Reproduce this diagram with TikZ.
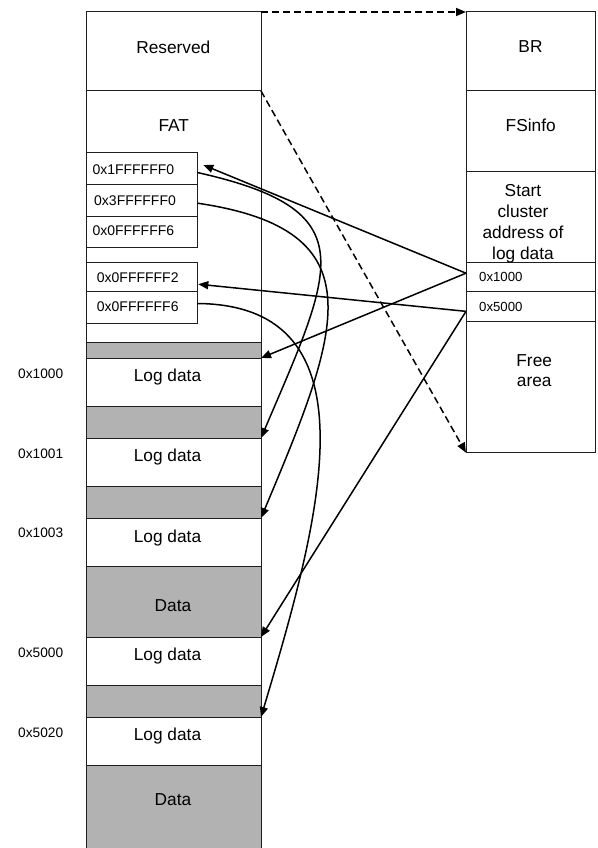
\documentclass[tikz,border=0pt]{standalone}
\usepackage{fontspec}
\setmainfont{Liberation Sans}
\usetikzlibrary{arrows.meta,calc}
\definecolor{blockgray}{RGB}{178,178,178}
\definecolor{edge}{RGB}{30,30,30}
\begin{document}
\begin{tikzpicture}[x=1pt,y=-1pt,
  cell/.style={draw=edge, line width=1pt, minimum width=175pt, inner sep=0pt, outer sep=0pt},
  rcell/.style={draw=edge, line width=1pt, minimum width=129.5pt, inner sep=0pt, outer sep=0pt},
  entry/.style={draw=edge, line width=1pt, minimum width=111.3pt, inner sep=0pt, outer sep=0pt},
  shaded/.style={fill=blockgray},
  big/.style={font=\fontsize{17.3}{21}\selectfont, inner sep=0pt, anchor=base},
  hex/.style={font=\fontsize{14}{16}\selectfont, inner sep=0pt, anchor=west},
  shex/.style={font=\fontsize{13.2}{15}\selectfont, inner sep=0pt, anchor=west},
  addr/.style={font=\fontsize{13.7}{15}\selectfont, inner sep=0pt, anchor=west},
  link/.style={draw=black, line width=1.5pt, -{Triangle[length=10pt,width=8pt]}},
  ptr/.style={link, dash pattern=on 7pt off 4pt}
]
\useasboundingbox (0,0) rectangle (597,848);

% ---- storage column (left) ----
\node[cell, minimum height=79pt]   (res)    at (173.5,51.5)  {};
\node[cell, minimum height=251pt]  (fatreg) at (173.5,216.5) {};
\node[cell, shaded, minimum height=16pt] (g1) at (173.5,350) {};
\node[cell, minimum height=48pt]   (ld1)    at (173.5,382)   {};
\node[cell, shaded, minimum height=32pt] (g2) at (173.5,422) {};
\node[cell, minimum height=48pt]   (ld2)    at (173.5,462)   {};
\node[cell, shaded, minimum height=32pt] (g3) at (173.5,502) {};
\node[cell, minimum height=48pt]   (ld3)    at (173.5,542)   {};
\node[cell, shaded, minimum height=71pt] (d1) at (173.5,601.5) {};
\node[cell, minimum height=48pt]   (ld4)    at (173.5,661)   {};
\node[cell, shaded, minimum height=32pt] (g4) at (173.5,701) {};
\node[cell, minimum height=48pt]   (ld5)    at (173.5,741)   {};
\node[cell, shaded, minimum height=86pt] (d2) at (173.5,808) {};

\node[big] (tres) at (173.3,53.3)  {Reserved};
\node[big] (tfat) at (173.8,131.3) {FAT};
\node[big] (tld1) at (167.5,381.7) {Log data};
\node[big] (tld2) at (167.5,461.7) {Log data};
\node[big] (tld3) at (167.5,542.0) {Log data};
\node[big] (td1)  at (173.0,611.7) {Data};
\node[big] (tld4) at (167.5,660.7) {Log data};
\node[big] (tld5) at (167.5,740.7) {Log data};
\node[big] (td2)  at (173.0,805.0) {Data};

% FAT entries
\node[entry, minimum height=31.6pt] (fat1) at (141.65,168.5)  {};
\node[entry, minimum height=31.7pt] (fat2) at (141.65,200.15) {};
\node[entry, minimum height=31.7pt] (fat3) at (141.65,231.85) {};
\node[entry, minimum height=29pt]   (fat4) at (141.65,277.2)  {};
\node[entry, minimum height=31.6pt] (fat5) at (141.65,307.5)  {};

\node[hex] (tf1) at (92.3,169.3) {0x1FFFFFF0};
\node[hex] (tf2) at (94.0,200.7) {0x3FFFFFF0};
\node[hex] (tf3) at (92.3,230.7) {0x0FFFFFF6};
\node[hex] (tf4) at (96.7,277.7) {0x0FFFFFF2};
\node[hex] (tf5) at (96.7,306.7) {0x0FFFFFF6};

% cluster addresses
\node[addr] (a1) at (18,373.3) {0x1000};
\node[addr] (a2) at (18,454.0) {0x1001};
\node[addr] (a3) at (18,533.0) {0x1003};
\node[addr] (a4) at (18,653.0) {0x5000};
\node[addr] (a5) at (18,733.0) {0x5020};

% ---- volume layout (right) ----
\node[rcell, minimum height=79pt]    (br)    at (530.75,51.5)   {};
\node[rcell, minimum height=80.5pt]  (fsi)   at (530.75,131.25) {};
\node[rcell, minimum height=91.2pt]  (start) at (530.75,217.1)  {};
\node[rcell, minimum height=29pt]    (c1000) at (530.75,277.2)  {};
\node[rcell, minimum height=29.3pt]  (c5000) at (530.75,306.35) {};
\node[rcell, minimum height=131.7pt] (free)  at (530.75,386.85) {};

\node[big] (tbr)  at (530.5,52.8)  {BR};
\node[big] (tfsi) at (530.7,131.7) {FSinfo};
\node[big] (ts1)  at (523,196.5) {Start};
\node[big] (ts2)  at (523,217.5) {cluster};
\node[big] (ts3)  at (523,238.5) {address of};
\node[big] (ts4)  at (523,259.3) {log data};
\node[shex] (tc1) at (479,277.3) {0x1000};
\node[shex] (tc2) at (479,306.7) {0x5000};
\node[big] (tfr1) at (534.2,366.0) {Free};
\node[big] (tfr2) at (534.2,386.7) {area};

% ---- pointers ----
\draw[ptr] (res.north east) -- (br.north west);
\draw[ptr] (res.south east) -- (free.south west);

\draw[link] ($(c1000.west)+(0,-4)$) -- ($(fat1.east)+(6,-3.5)$);
\draw[link] ($(c1000.west)+(0,-4)$) -- (ld1.north east);
\draw[link] ($(c5000.west)+(0,5)$) -- ($(fat4.east)+(1,7)$);
\draw[link] ($(c5000.west)+(0,5)$) -- (ld4.north east);

% cluster chains
\draw[link] ($(fat1.east)+(0,4)$) .. controls (365,210) and (335,265) .. (ld2.north east);
\draw[link] ($(fat2.east)+(0,3)$) .. controls (380,230) and (340,330) .. (ld3.north east);
\draw[link] ($(fat5.east)+(0,-4)$) .. controls (380,305) and (320,520) .. (ld5.north east);
\end{tikzpicture}
\end{document}
